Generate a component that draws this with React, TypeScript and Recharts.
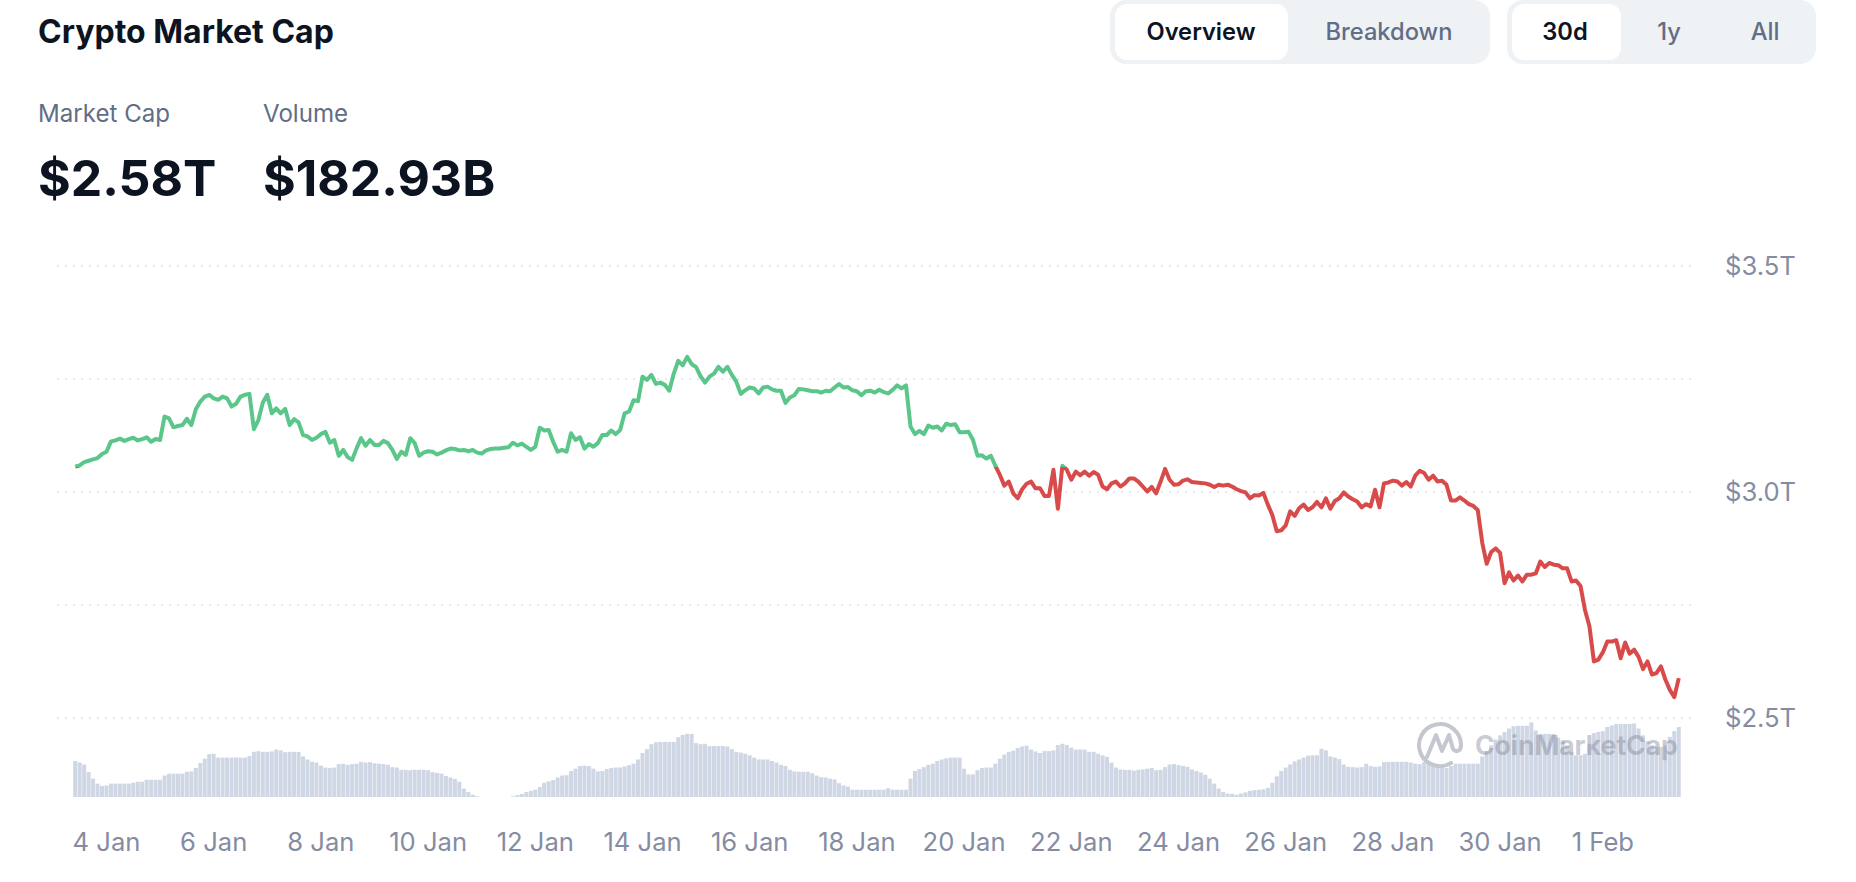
import { Bar, CartesianGrid, ComposedChart, Line, XAxis, YAxis } from "recharts";

// two-hourly total market cap, $T
const capValues = [
  3.056, 3.059, 3.066, 3.069, 3.072, 3.075, 3.084, 3.089, 3.112, 3.114, 3.118, 3.113, 3.117, 3.12, 3.114, 3.117, 3.121, 3.111, 3.117, 3.115,
  3.167, 3.163, 3.143, 3.146, 3.148, 3.162, 3.148, 3.183, 3.2, 3.211, 3.215, 3.207, 3.204, 3.211, 3.207, 3.189, 3.195, 3.211, 3.215, 3.217,
  3.139, 3.159, 3.198, 3.215, 3.174, 3.185, 3.174, 3.184, 3.148, 3.161, 3.154, 3.126, 3.123, 3.115, 3.12, 3.128, 3.133, 3.109, 3.115, 3.08,
  3.093, 3.077, 3.071, 3.097, 3.119, 3.102, 3.115, 3.104, 3.104, 3.113, 3.108, 3.093, 3.073, 3.089, 3.082, 3.119, 3.108, 3.08, 3.087, 3.09,
  3.089, 3.083, 3.087, 3.092, 3.096, 3.095, 3.092, 3.093, 3.09, 3.093, 3.087, 3.085, 3.092, 3.095, 3.096, 3.096, 3.098, 3.099, 3.109, 3.103,
  3.107, 3.1, 3.093, 3.1, 3.142, 3.136, 3.137, 3.111, 3.089, 3.093, 3.089, 3.13, 3.115, 3.121, 3.096, 3.106, 3.1, 3.108, 3.126, 3.126,
  3.136, 3.128, 3.137, 3.174, 3.178, 3.203, 3.201, 3.255, 3.248, 3.259, 3.239, 3.242, 3.237, 3.224, 3.262, 3.29, 3.28, 3.299, 3.283, 3.276,
  3.256, 3.242, 3.255, 3.262, 3.277, 3.266, 3.277, 3.259, 3.244, 3.217, 3.225, 3.231, 3.229, 3.218, 3.231, 3.233, 3.227, 3.224, 3.224, 3.197,
  3.209, 3.214, 3.228, 3.227, 3.225, 3.223, 3.223, 3.22, 3.224, 3.223, 3.231, 3.239, 3.231, 3.232, 3.225, 3.223, 3.214, 3.223, 3.224, 3.22,
  3.226, 3.221, 3.218, 3.226, 3.236, 3.229, 3.236, 3.145, 3.128, 3.135, 3.128, 3.147, 3.142, 3.145, 3.136, 3.151, 3.148, 3.15, 3.132, 3.132,
  3.133, 3.115, 3.08, 3.081, 3.074, 3.08, 3.058, 3.038, 3.014, 3.023, 2.997, 2.986, 3.006, 3.018, 3.023, 3.008, 3.008, 2.991, 2.991, 3.049,
  2.963, 3.058, 3.049, 3.027, 3.045, 3.037, 3.045, 3.036, 3.044, 3.038, 3.012, 3.006, 3.019, 3.023, 3.012, 3.019, 3.03, 3.03, 3.023, 3.012,
  3.001, 3.011, 2.997, 3.023, 3.051, 3.027, 3.016, 3.017, 3.025, 3.028, 3.022, 3.021, 3.02, 3.019, 3.016, 3.011, 3.016, 3.014, 3.016, 3.012,
  3.006, 3.002, 2.999, 2.986, 2.993, 2.992, 2.998, 2.972, 2.949, 2.913, 2.915, 2.926, 2.957, 2.947, 2.964, 2.972, 2.96, 2.966, 2.978, 2.966,
  2.986, 2.963, 2.98, 2.986, 2.999, 2.99, 2.984, 2.979, 2.966, 2.973, 2.968, 3.005, 2.966, 3.019, 3.021, 3.025, 3.023, 3.014, 3.022, 3.012,
  3.036, 3.047, 3.042, 3.027, 3.036, 3.023, 3.025, 3.016, 2.981, 2.981, 2.988, 2.981, 2.973, 2.969, 2.96, 2.888, 2.841, 2.867, 2.875, 2.865,
  2.798, 2.822, 2.804, 2.815, 2.802, 2.817, 2.817, 2.82, 2.846, 2.834, 2.843, 2.839, 2.838, 2.831, 2.831, 2.802, 2.804, 2.792, 2.739, 2.703,
  2.625, 2.629, 2.645, 2.669, 2.669, 2.672, 2.632, 2.667, 2.642, 2.651, 2.635, 2.608, 2.625, 2.596, 2.599, 2.614, 2.585, 2.562, 2.546, 2.588,
];

// two-hourly volume, $B
const volumeValues = [
  94, 90, 85, 65, 48, 35, 29, 30, 35, 35, 35, 35, 35, 37, 40, 40, 45, 45, 45, 45,
  56, 61, 61, 61, 61, 66, 67, 76, 89, 100, 112, 113, 103, 103, 103, 103, 103, 103, 103, 107,
  118, 120, 118, 118, 119, 124, 122, 117, 118, 118, 118, 106, 98, 92, 90, 82, 77, 76, 77, 86,
  87, 84, 86, 87, 92, 90, 91, 88, 87, 86, 84, 78, 77, 71, 71, 70, 71, 71, 71, 70,
  65, 63, 61, 55, 51, 47, 40, 22, 13, 6, 2, 0, 0, 0, 0, 0, 0, 0, 2, 5,
  8, 13, 16, 19, 26, 37, 41, 44, 51, 56, 57, 68, 74, 81, 82, 81, 74, 67, 68, 73,
  76, 77, 77, 80, 83, 87, 98, 115, 125, 138, 143, 144, 144, 144, 144, 156, 162, 165, 165, 141,
  138, 139, 133, 133, 133, 133, 132, 125, 118, 116, 113, 109, 103, 98, 98, 98, 94, 90, 84, 81,
  71, 67, 66, 66, 66, 62, 56, 52, 51, 48, 46, 36, 30, 27, 19, 19, 19, 19, 19, 19,
  19, 19, 23, 19, 19, 19, 19, 48, 68, 73, 78, 84, 87, 94, 98, 101, 103, 103, 103, 74,
  59, 59, 70, 76, 77, 77, 87, 100, 111, 118, 121, 128, 132, 134, 124, 119, 115, 120, 120, 122,
  136, 139, 136, 129, 124, 124, 124, 118, 118, 113, 109, 105, 90, 77, 72, 71, 71, 69, 71, 72,
  74, 76, 70, 71, 78, 85, 86, 83, 81, 79, 72, 68, 64, 58, 48, 35, 22, 13, 9, 8,
  6, 9, 12, 16, 18, 19, 20, 24, 37, 54, 68, 77, 85, 93, 98, 103, 108, 109, 109, 126,
  122, 106, 103, 99, 85, 79, 78, 77, 78, 87, 81, 79, 80, 91, 92, 92, 92, 92, 92, 90,
  87, 86, 91, 87, 83, 80, 78, 76, 81, 87, 87, 87, 87, 87, 87, 106, 120, 135, 150, 161,
  170, 179, 185, 186, 186, 186, 195, 174, 165, 165, 165, 165, 155, 148, 135, 118, 109, 109, 113, 139,
  167, 170, 172, 183, 187, 191, 191, 191, 191, 192, 179, 161, 146, 135, 131, 131, 135, 157, 172, 183,
];

const tickSlots = [7, 31, 55, 79, 103, 127, 151, 175, 199, 223, 247, 271, 295, 319, 342];
const tickLabels = ["4 Jan", "6 Jan", "8 Jan", "10 Jan", "12 Jan", "14 Jan", "16 Jan", "18 Jan", "20 Jan", "22 Jan", "24 Jan", "26 Jan", "28 Jan", "30 Jan", "1 Feb"];

const capTicks = [2.5, 2.75, 3, 3.25, 3.5];
const capTickLabels = ["$2.5T", "", "$3.0T", "", "$3.5T"];

const chartData = capValues.map((cap, slot) => ({ slot, cap, volume: volumeValues[slot] }));

// the line flips from green to red where it crosses its opening value
const capMax = Math.max(...capValues);
const capMin = Math.min(...capValues);
const flipOffset = (capMax - capValues[0]) / (capMax - capMin);

const FONT = "Inter, sans-serif";
const INK = "#0d1421";
const MUTED = "#616e85";
const AXIS = "#858ca2";

function Toggle({ left, width, activeWidth, items }: { left: number; width: number; activeWidth: number; items: { label: string; center: number; active?: boolean }[] }) {
  return (
    <>
      <div style={{ position: "absolute", left, top: 0, width, height: 64, background: "#eff2f5", borderRadius: 16 }} />
      <div style={{ position: "absolute", left: left + 5, top: 4, width: activeWidth, height: 56, background: "#fff", borderRadius: 12 }} />
      {items.map((item) => (
        <div
          key={item.label}
          style={{
            position: "absolute",
            left: item.center - 100,
            top: 16,
            width: 200,
            lineHeight: "32px",
            textAlign: "center",
            fontSize: 23.7,
            fontWeight: item.active ? 600 : 500,
            color: item.active ? INK : MUTED,
          }}
        >
          {item.label}
        </div>
      ))}
    </>
  );
}

export default function App() {
  return (
    <div style={{ position: "absolute", left: 0, top: 0, width: 1856, height: 882, overflow: "hidden", background: "#fff", fontFamily: FONT }}>
      <div style={{ position: "absolute", left: 38, top: 14, fontSize: 32, lineHeight: "36px", fontWeight: 700, color: INK }}>Crypto Market Cap</div>
      <div style={{ position: "absolute", left: 38, top: 98, fontSize: 24.1, lineHeight: "32px", color: MUTED }}>Market Cap</div>
      <div style={{ position: "absolute", left: 263, top: 98, fontSize: 24.1, lineHeight: "32px", color: MUTED }}>Volume</div>
      <div style={{ position: "absolute", left: 38, top: 148, fontSize: 50, lineHeight: "60px", fontWeight: 700, color: INK }}>$2.58T</div>
      <div style={{ position: "absolute", left: 263, top: 148, fontSize: 50, lineHeight: "60px", fontWeight: 700, color: INK }}>$182.93B</div>

      <Toggle
        left={1110}
        width={380}
        activeWidth={173}
        items={[
          { label: "Overview", center: 1201, active: true },
          { label: "Breakdown", center: 1389 },
        ]}
      />
      <Toggle
        left={1507}
        width={309}
        activeWidth={109}
        items={[
          { label: "30d", center: 1565, active: true },
          { label: "1y", center: 1669 },
          { label: "All", center: 1765 },
        ]}
      />

      <div style={{ position: "absolute", left: 0, top: 0 }}>
        <ComposedChart width={1856} height={882} data={chartData} margin={{ top: 266, right: 0, bottom: 0, left: 57 }} barCategoryGap="5%">
          <defs>
            <linearGradient id="capStroke" x1="0" y1="0" x2="0" y2="1">
              <stop offset={flipOffset} stopColor="#5bc68a" />
              <stop offset={flipOffset} stopColor="#d94a4b" />
            </linearGradient>
          </defs>
          <CartesianGrid yAxisId="cap" vertical={false} syncWithTicks stroke="#dfe2e7" strokeWidth={1.5} strokeDasharray="2 6" />
          <XAxis
            dataKey="slot"
            type="category"
            ticks={tickSlots}
            interval={0}
            height={85}
            padding={{ left: 16, right: 11 }}
            axisLine={false}
            tickLine={false}
            tickMargin={30}
            tick={{ fill: AXIS, fontSize: 25.6, fontFamily: FONT }}
            tickFormatter={(slot: number) => tickLabels[tickSlots.indexOf(slot)]}
          />
          <YAxis
            yAxisId="cap"
            orientation="right"
            width={164}
            domain={[2.325, 3.5]}
            ticks={capTicks}
            interval={0}
            axisLine={false}
            tickLine={false}
            tickMargin={27}
            tick={{ fill: AXIS, fontSize: 25.6, fontFamily: FONT, textAnchor: "start" }}
            tickFormatter={(value: number) => capTickLabels[capTicks.indexOf(value)]}
          />
          <YAxis yAxisId="volume" hide domain={[0, 1387.6]} />
          <Bar yAxisId="volume" dataKey="volume" fill="#cfd6e4" isAnimationActive={false} />
          <Line yAxisId="cap" dataKey="cap" stroke="url(#capStroke)" strokeWidth={4} dot={false} activeDot={false} type="linear" strokeLinejoin="round" isAnimationActive={false} />
        </ComposedChart>
      </div>

      <svg style={{ position: "absolute", left: 1416, top: 721 }} width={50} height={50} viewBox="0 0 50 50" fill="none" stroke="#c4c7d0" strokeWidth={4} strokeLinecap="round" strokeLinejoin="round">
        <path d="M35 42 A21 21 0 1 1 45 24 C45 30 40 32 37 28 L33 14 L26 30 L20 14 L11 36" />
      </svg>
      <div style={{ position: "absolute", left: 1475, top: 726, fontSize: 26.5, lineHeight: "38px", fontWeight: 700, color: "rgba(125,130,145,0.42)" }}>CoinMarketCap</div>
    </div>
  );
}
